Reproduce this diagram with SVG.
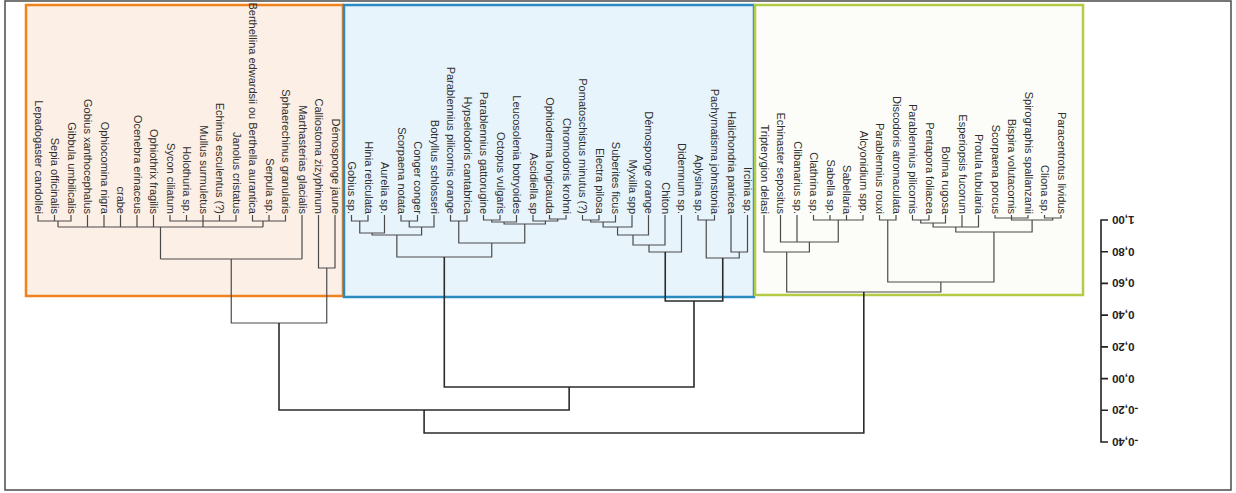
<svg xmlns="http://www.w3.org/2000/svg" width="1236" height="493" viewBox="0 0 1236 493">
<style>
.lbl{font-family:"Liberation Sans",Arial,sans-serif;font-size:11px;fill:#2e2e2e;text-anchor:end}
.ax{font-family:"Liberation Sans",Arial,sans-serif;font-size:11.5px;font-weight:bold;fill:#222;text-anchor:end}
.t{fill:none;stroke:#4a4a4a;stroke-width:1.2}
.tm{fill:none;stroke:#2b2b2b;stroke-width:1.6}
</style>
<rect x="0" y="0" width="1236" height="493" fill="#ffffff"/>
<rect id="frame" x="5" y="1" width="1226" height="489" fill="none" stroke="#555" stroke-width="1.6"/>
<g id="clusters">
<rect id="cluster-orange" x="26" y="5" width="317" height="291" fill="#fcefe6" stroke="#f0821e" stroke-width="2.5"/>
<rect id="cluster-blue" x="344" y="5" width="410" height="292" fill="#e8f4fb" stroke="#2a8bc0" stroke-width="2.5"/>
<rect id="cluster-green" x="755" y="5" width="328" height="290" fill="#fcfdf8" stroke="#b4cc45" stroke-width="2.5"/>
</g>
<g id="connectors">
<path class="t" d="M38 215V221H71V215M54.5 215V221M58 221V227M87.5 215V227M104 215V227M120.5 215V227M137 215V227M153.5 215V227M170 215V221H236V215M186.5 215V221M203 215V227M219.5 215V221M252.5 215V221H285.5V215M269 215V221M263 221V227M58 227H263M160.5 227V259M302 215V259M160.5 259H302M318.5 215V268H335V215M231.25 259V323H326.75V268"/>
<path class="t" d="M351.5 215V221H368V215M359.75 221V233H384.5V215M401 215V221H417.5V215M409.25 221V227H434V215M372.1 233V235H421.6V227M450.5 215V221H467V215M483.5 215V220H500V215M491.75 220V222H516.5V215M549.5 215V219H566V215M533 215V221H557.75V219M504.1 222V224H545.4V221M458.75 221V243H524.75V224M396.85 235V257H491.75V243M582.5 215V220H599V215M590.75 220V222H615.5V215M603.1 222V227H632V215M617.55 227V235H648.5V215M633 235V245H665V215M649 245V252H681.5V215M698 215V220H714.5V215M731 215V252H747.5V215M706.25 220V258H739.25V252"/>
<path class="t" d="M813.5 215V220H863V215M830 215V220M846.5 215V220M780.5 215V242H838.25V220M797 215V242M764 215V252H809.4V242M879.5 215V220H896V215M912.5 215V220H929V215M920.75 220V223H945.5V215M933.1 223V227H978.5V215M962 215V227M995 215V218H1028V215M1011.5 215V218M1044.5 215V218H1061V215M1011.5 218V220H1052.75V218M955.8 227V232H1032.1V220M887.75 220V282H993.95V232M786.7 252V292H940.85V282"/>
<path class="tm" d="M665.25 252V301H722.75V258M444.3 257V387H694V301M279 323V410H569.15V387M424.1 410V433H863.8V292"/>
</g>
<g id="leaves">
<g id="n0"><text class="lbl" x="34.5" y="214" transform="rotate(90 34.5 214)">Lepadogaster candollei</text></g>
<g id="n1"><text class="lbl" x="51" y="214" transform="rotate(90 51 214)">Sepia officinalis</text></g>
<g id="n2"><text class="lbl" x="67.5" y="214" transform="rotate(90 67.5 214)">Gibbula umbilicalis</text></g>
<g id="n3"><text class="lbl" x="84" y="214" transform="rotate(90 84 214)">Gobius xanthocephalus</text></g>
<g id="n4"><text class="lbl" x="100.5" y="214" transform="rotate(90 100.5 214)">Ophiocomina nigra</text></g>
<g id="n5"><text class="lbl" x="117" y="214" transform="rotate(90 117 214)">crabe</text></g>
<g id="n6"><text class="lbl" x="133.5" y="214" transform="rotate(90 133.5 214)">Ocenebra erinaceus</text></g>
<g id="n7"><text class="lbl" x="150" y="214" transform="rotate(90 150 214)">Ophiothrix fragilis</text></g>
<g id="n8"><text class="lbl" x="166.5" y="214" transform="rotate(90 166.5 214)">Sycon ciliatum</text></g>
<g id="n9"><text class="lbl" x="183" y="214" transform="rotate(90 183 214)">Holothuria sp.</text></g>
<g id="n10"><text class="lbl" x="199.5" y="214" transform="rotate(90 199.5 214)">Mullus surmuletus</text></g>
<g id="n11"><text class="lbl" x="216" y="214" transform="rotate(90 216 214)">Echinus esculentus (?)</text></g>
<g id="n12"><text class="lbl" x="232.5" y="214" transform="rotate(90 232.5 214)">Janolus cristatus</text></g>
<g id="n13"><text class="lbl" x="249" y="214" transform="rotate(90 249 214)">Berthellina edwardsii ou Berthella aurantica</text></g>
<g id="n14"><text class="lbl" x="265.5" y="214" transform="rotate(90 265.5 214)">Serpula sp.</text></g>
<g id="n15"><text class="lbl" x="282" y="214" transform="rotate(90 282 214)">Sphaerechinus granularis</text></g>
<g id="n16"><text class="lbl" x="298.5" y="214" transform="rotate(90 298.5 214)">Marthasterias glacialis</text></g>
<g id="n17"><text class="lbl" x="315" y="214" transform="rotate(90 315 214)">Calliostoma zizyphinum</text></g>
<g id="n18"><text class="lbl" x="331.5" y="214" transform="rotate(90 331.5 214)">Démosponge jaune</text></g>
<g id="n19"><text class="lbl" x="348" y="214" transform="rotate(90 348 214)">Gobius sp.</text></g>
<g id="n20"><text class="lbl" x="364.5" y="214" transform="rotate(90 364.5 214)">Hinia reticulata</text></g>
<g id="n21"><text class="lbl" x="381" y="214" transform="rotate(90 381 214)">Aurelia sp.</text></g>
<g id="n22"><text class="lbl" x="397.5" y="214" transform="rotate(90 397.5 214)">Scorpaena notata</text></g>
<g id="n23"><text class="lbl" x="414" y="214" transform="rotate(90 414 214)">Conger conger</text></g>
<g id="n24"><text class="lbl" x="430.5" y="214" transform="rotate(90 430.5 214)">Botryllus schlosseri</text></g>
<g id="n25"><text class="lbl" x="447" y="214" transform="rotate(90 447 214)">Parablennius pilicornis orange</text></g>
<g id="n26"><text class="lbl" x="463.5" y="214" transform="rotate(90 463.5 214)">Hypselodoris cantabrica</text></g>
<g id="n27"><text class="lbl" x="480" y="214" transform="rotate(90 480 214)">Parablennius gattorugine</text></g>
<g id="n28"><text class="lbl" x="496.5" y="214" transform="rotate(90 496.5 214)">Octopus vulgaris</text></g>
<g id="n29"><text class="lbl" x="513" y="214" transform="rotate(90 513 214)">Leucosolenia botryoides</text></g>
<g id="n30"><text class="lbl" x="529.5" y="214" transform="rotate(90 529.5 214)">Ascidiella sp</text></g>
<g id="n31"><text class="lbl" x="546" y="214" transform="rotate(90 546 214)">Ophioderma longicauda</text></g>
<g id="n32"><text class="lbl" x="562.5" y="214" transform="rotate(90 562.5 214)">Chromodoris krohni</text></g>
<g id="n33"><text class="lbl" x="579" y="214" transform="rotate(90 579 214)">Pomatoschistus minutus (?)</text></g>
<g id="n34"><text class="lbl" x="595.5" y="214" transform="rotate(90 595.5 214)">Electra pilosa</text></g>
<g id="n35"><text class="lbl" x="612" y="214" transform="rotate(90 612 214)">Suberites ficus</text></g>
<g id="n36"><text class="lbl" x="628.5" y="214" transform="rotate(90 628.5 214)">Myxilla spp</text></g>
<g id="n37"><text class="lbl" x="645" y="214" transform="rotate(90 645 214)">Démosponge orange</text></g>
<g id="n38"><text class="lbl" x="661.5" y="214" transform="rotate(90 661.5 214)">Chiton</text></g>
<g id="n39"><text class="lbl" x="678" y="214" transform="rotate(90 678 214)">Didemnum sp.</text></g>
<g id="n40"><text class="lbl" x="694.5" y="214" transform="rotate(90 694.5 214)">Aplysina sp.</text></g>
<g id="n41"><text class="lbl" x="711" y="214" transform="rotate(90 711 214)">Pachymatisma johnstonia</text></g>
<g id="n42"><text class="lbl" x="727.5" y="214" transform="rotate(90 727.5 214)">Halichondria panicea</text></g>
<g id="n43"><text class="lbl" x="744" y="214" transform="rotate(90 744 214)">Ircinia sp.</text></g>
<g id="n44"><text class="lbl" x="760.5" y="214" transform="rotate(90 760.5 214)">Tripterygion delasi</text></g>
<g id="n45"><text class="lbl" x="777" y="214" transform="rotate(90 777 214)">Echinaster sepositus</text></g>
<g id="n46"><text class="lbl" x="793.5" y="214" transform="rotate(90 793.5 214)">Clibanarius sp.</text></g>
<g id="n47"><text class="lbl" x="810" y="214" transform="rotate(90 810 214)">Clathrina sp.</text></g>
<g id="n48"><text class="lbl" x="826.5" y="214" transform="rotate(90 826.5 214)">Sabella sp.</text></g>
<g id="n49"><text class="lbl" x="843" y="214" transform="rotate(90 843 214)">Sabellaria</text></g>
<g id="n50"><text class="lbl" x="859.5" y="214" transform="rotate(90 859.5 214)">Alcyonidium spp.</text></g>
<g id="n51"><text class="lbl" x="876" y="214" transform="rotate(90 876 214)">Parablennius rouxi</text></g>
<g id="n52"><text class="lbl" x="892.5" y="214" transform="rotate(90 892.5 214)">Discodoris atromaculata</text></g>
<g id="n53"><text class="lbl" x="909" y="214" transform="rotate(90 909 214)">Parablennius pilicornis</text></g>
<g id="n54"><text class="lbl" x="925.5" y="214" transform="rotate(90 925.5 214)">Pentapora foliacea</text></g>
<g id="n55"><text class="lbl" x="942" y="214" transform="rotate(90 942 214)">Bolma rugosa</text></g>
<g id="n56"><text class="lbl" x="958.5" y="214" transform="rotate(90 958.5 214)">Esperiopsis fucorum</text></g>
<g id="n57"><text class="lbl" x="975" y="214" transform="rotate(90 975 214)">Protula tubularia</text></g>
<g id="n58"><text class="lbl" x="991.5" y="214" transform="rotate(90 991.5 214)">Scorpaena porcus</text></g>
<g id="n59"><text class="lbl" x="1008" y="214" transform="rotate(90 1008 214)">Bispira volutacornis</text></g>
<g id="n60"><text class="lbl" x="1024.5" y="214" transform="rotate(90 1024.5 214)">Spirographis spallanzanii</text></g>
<g id="n61"><text class="lbl" x="1041" y="214" transform="rotate(90 1041 214)">Cliona sp.</text></g>
<g id="n62"><text class="lbl" x="1057.5" y="214" transform="rotate(90 1057.5 214)">Paracentrotus lividus</text></g>
</g>
<g id="axis">
<path fill="none" stroke="#222" stroke-width="1.6" d="M1108 220H1101V442H1108M1101 251.7H1108M1101 283.4H1108M1101 315.1H1108M1101 346.9H1108M1101 378.6H1108M1101 410.3H1108"/>
<text class="ax" x="1112" y="216" transform="rotate(180 1112 216)">1,00</text>
<text class="ax" x="1112" y="247.7" transform="rotate(180 1112 247.7)">0,80</text>
<text class="ax" x="1112" y="279.4" transform="rotate(180 1112 279.4)">0,60</text>
<text class="ax" x="1112" y="311.1" transform="rotate(180 1112 311.1)">0,40</text>
<text class="ax" x="1112" y="342.9" transform="rotate(180 1112 342.9)">0,20</text>
<text class="ax" x="1112" y="374.6" transform="rotate(180 1112 374.6)">0,00</text>
<text class="ax" x="1112" y="406.3" transform="rotate(180 1112 406.3)">-0,20</text>
<text class="ax" x="1112" y="438" transform="rotate(180 1112 438)">-0,40</text>
</g>
</svg>
